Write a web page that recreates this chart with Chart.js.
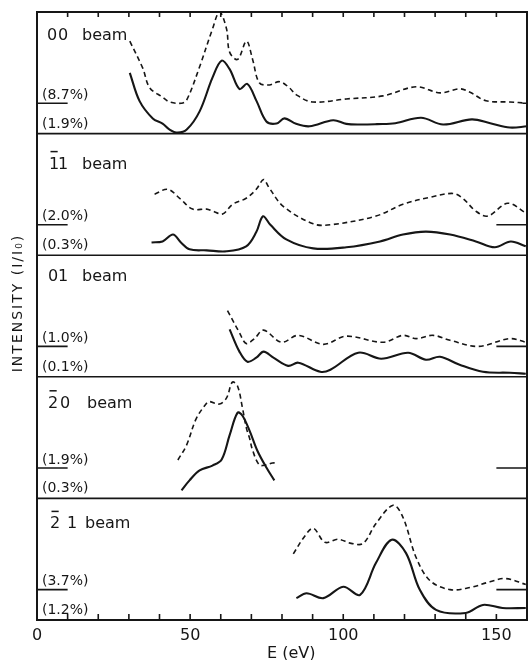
<!DOCTYPE html>
<html>
<head>
<meta charset="utf-8">
<script src="https://cdn.jsdelivr.net/npm/chart.js@4.4.1/dist/chart.umd.min.js"></script>
<style>
  html, body { margin: 0; padding: 0; background: #fff; }
  #wrap { width: 528px; height: 660px; }
</style>
</head>
<body>
<div id="wrap"><canvas id="c" width="528" height="660"></canvas></div>
<script>
// Beam indices (h, k); a negative index is printed as its magnitude with an overbar
const beamH = [0, -1, 0, -2, -2];
const beamK = [0, 1, 1, 0, 1];
// Full-scale intensity of each curve, as printed at the left of every panel
const scaleDashed = ['(8.7%)', '(2.0%)', '(1.0%)', '(1.9%)', '(3.7%)'];
const scaleSolid  = ['(1.9%)', '(0.3%)', '(0.1%)', '(0.3%)', '(1.2%)'];
const xTickLabels = [0, 50, 100, 150];

// Energies (eV) and relative intensities. Dashed curves are measured from their own zero line.
// 00 beam
const e00Solid  = [30.3, 33.5, 37.8, 41, 43.3, 45.9, 48.9, 53.1, 57.3, 60.3, 62.9, 66.1, 68.7, 71.7, 74.9, 78.2, 80.8, 84.6, 89, 96.7, 101, 105.5, 111, 117, 125.4, 132.6, 142, 148, 154.4, 160];
const i00Solid  = [50, 26.7, 12.5, 8.3, 3.3, 0.8, 3.3, 18.3, 46, 60, 53, 36.7, 40.8, 26.7, 10, 8.3, 12.5, 8, 6, 11, 8, 7.5, 7.8, 8.5, 13, 7.5, 11.7, 8.5, 5, 6];
const e00Dashed = [30.3, 34.5, 36.8, 41, 43.3, 47.2, 48.9, 53.1, 57.3, 59.6, 61.9, 62.9, 65.5, 68.4, 70.4, 72.6, 75.9, 79.2, 82.4, 84.6, 90, 101, 113, 123.8, 131.6, 138, 141.4, 146.6, 154.4, 160];
const i00Dashed = [51, 29, 12.7, 5, 1, 0, 2.7, 30, 61, 75, 61, 42, 36, 51, 36, 16.8, 15, 17.7, 12.7, 7, 1, 3.5, 6, 13.5, 8.5, 11.8, 9, 2, 1, 0];
// -1 1 beam
const e11Solid  = [37.4, 41, 44.4, 47, 49.8, 55.4, 61.9, 68.3, 71.6, 73.8, 76.2, 81.4, 90.2, 101, 112, 119.5, 127, 134.9, 143.3, 149.5, 154.7, 159.6];
const i11Solid  = [10.5, 11.3, 17, 10.5, 4.8, 4, 3.2, 7.3, 19, 32, 25, 13, 5.6, 6.5, 11.3, 17, 19.4, 17, 11.3, 6.5, 11.3, 7.3];
const e11Dashed = [38.4, 42.7, 46.6, 50.8, 55.4, 57.4, 60.6, 63.9, 68.3, 71.6, 74, 75.6, 80.4, 90.2, 95.8, 110.7, 119.5, 128.3, 135.8, 139, 143.3, 147.2, 153.7, 159.6];
const i11Dashed = [25.2, 29.2, 21.8, 12.9, 12.9, 11.2, 8.9, 16.9, 21.8, 29.2, 37.2, 31.2, 15.2, 0.8, 0, 7.2, 16.9, 22.6, 25.8, 21.8, 11.2, 7.2, 17.7, 9.7];
// 01 beam
const e01Solid  = [62.9, 66.1, 68.7, 71.6, 74, 77.2, 82, 85.3, 92.5, 95.8, 104.9, 112.4, 121.2, 127, 131.6, 138, 145.6, 154.4, 159.6];
const i01Solid  = [39, 20.7, 12.4, 15.7, 20.7, 15.7, 9, 11.6, 4.1, 5.8, 19.8, 14.9, 19.8, 14, 16.5, 9.9, 4.1, 3.3, 2.5];
const e01Dashed = [62.2, 66.1, 68.3, 71, 74, 79.8, 85.3, 93.5, 101, 113, 119.5, 123.8, 129.3, 134.9, 144, 154.4, 159.6];
const i01Dashed = [29.4, 11.4, 2.4, 6.4, 13.4, 3.4, 9.1, 1.7, 8.4, 3.4, 9.1, 6.4, 9.1, 5, 0, 6.4, 3.4];
// -2 0 beam
const e20Solid  = [47.2, 49.8, 53.1, 57.3, 60.3, 62.9, 65.5, 67.1, 69.4, 72, 74.9, 77.5];
const i20Solid  = [6.6, 14.8, 23, 27, 32, 52, 70.5, 68, 55.7, 39, 25.4, 14.8];
const e20Dashed = [46, 48.8, 52, 55.4, 56.4, 59.6, 61.9, 63.8, 65.5, 67.1, 68.4, 69.4, 70.4, 72.6, 74.9, 76.9, 78.5];
const i20Dashed = [6.6, 18.6, 40.6, 53.3, 54.6, 52.6, 57.6, 70.6, 67.2, 49.2, 32.6, 24.6, 14.6, 2.6, 2.6, 4.1, 4.1];
// -2 1 beam
const e21Solid  = [84.7, 88, 93.5, 100, 105.5, 110.7, 115.8, 120.5, 125, 130.3, 140, 145.6, 152, 159.6];
const i21Solid  = [18, 22, 18, 27.3, 20.7, 47, 66, 55, 24.8, 8.3, 5.8, 12.4, 9.9, 9.9];
const e21Dashed = [83.7, 87, 90.2, 94, 98.3, 102.6, 106.5, 110.7, 116.3, 119.5, 123.8, 128.3, 134.9, 141.4, 147.9, 153, 159.6];
const i21Dashed = [29.4, 42.4, 50.4, 38.9, 41.4, 38, 38, 54.4, 69.4, 59.4, 26.4, 7.4, 0, 1.7, 6.4, 9.1, 4.2];

const solidE  = [e00Solid, e11Solid, e01Solid, e20Solid, e21Solid];
const solidI  = [i00Solid, i11Solid, i01Solid, i20Solid, i21Solid];
const dashedE = [e00Dashed, e11Dashed, e01Dashed, e20Dashed, e21Dashed];
const dashedI = [i00Dashed, i11Dashed, i01Dashed, i20Dashed, i21Dashed];

// ---- drawing setup ----
const INK = '#161616';
const FONT = '"DejaVu Sans", sans-serif';
const DASH_ZERO = 25;             // height of the dashed curves' zero line inside a panel
const panelIds = ['p0', 'p1', 'p2', 'p3', 'p4'];
const rightZeroStart = [158.5, 150, 150, 150, 150];
const titleDy = [28, 35, 26, 31, 30];
const hX = [47, 49, 48, 48, 50];
const kX = [58, 58, 58, 60, 67];
const beamX = [82, 82, 82, 87, 85];

const datasets = [];
panelIds.forEach((id, p) => {
  datasets.push({
    data: solidE[p].map((e, j) => ({ x: e, y: solidI[p][j] })),
    yAxisID: id, borderColor: INK, borderWidth: 2.1, pointRadius: 0, tension: 0.35, fill: false
  });
  datasets.push({
    data: dashedE[p].map((e, j) => ({ x: e, y: dashedI[p][j] + DASH_ZERO })),
    yAxisID: id, borderColor: INK, borderWidth: 1.6, borderDash: [5, 3.5], pointRadius: 0, tension: 0.35, fill: false
  });
});

const scales = {
  x: {
    type: 'linear', min: 0, max: 160, position: 'bottom',
    afterFit: s => { s.height = 40; s.paddingLeft = 0; s.paddingRight = 0; },
    grid: { display: false, drawTicks: false },
    border: { display: false },
    ticks: {
      stepSize: 10, autoSkip: false, maxRotation: 0, padding: 6, color: INK,
      font: { family: FONT, size: 16 },
      callback: v => xTickLabels.includes(v) ? String(v) : ''
    }
  }
};
panelIds.forEach((id, p) => {
  scales[id] = {
    type: 'linear', min: 0, max: 100, position: 'left',
    stack: 'beams', stackWeight: 1, weight: 10 - p,
    afterFit: s => { s.width = 0; },
    ticks: { display: false },
    grid: { display: false, drawTicks: false },
    border: { display: false }
  };
});

// frames, tick marks, zero lines and all panel lettering
const panelDecor = {
  id: 'panelDecor',
  afterDatasetsDraw(chart) {
    const ctx = chart.ctx, ca = chart.chartArea, xs = chart.scales.x;
    ctx.save();
    ctx.strokeStyle = INK; ctx.fillStyle = INK;
    ctx.lineCap = 'butt';

    panelIds.forEach((id, p) => {
      const ys = chart.scales[id];
      // separator below each panel
      if (p < panelIds.length - 1) {
        ctx.lineWidth = 1.6;
        ctx.beginPath(); ctx.moveTo(ca.left, ys.bottom); ctx.lineTo(ca.right, ys.bottom); ctx.stroke();
      }
      // zero line of the dashed curve, at both ends
      const zy = ys.getPixelForValue(DASH_ZERO);
      ctx.lineWidth = 1.6;
      ctx.beginPath();
      ctx.moveTo(xs.getPixelForValue(0), zy); ctx.lineTo(xs.getPixelForValue(10), zy);
      ctx.moveTo(xs.getPixelForValue(rightZeroStart[p]), zy); ctx.lineTo(xs.getPixelForValue(160), zy);
      ctx.stroke();

      // scale factors
      ctx.font = '14px ' + FONT;
      ctx.textAlign = 'left'; ctx.textBaseline = 'alphabetic';
      ctx.fillText(scaleDashed[p], ca.left + 5, zy - 4.5);
      ctx.fillText(scaleSolid[p], ca.left + 5, ys.bottom - 6);

      // beam name
      const by = ys.top + titleDy[p];
      ctx.font = '16px ' + FONT;
      const hs = String(Math.abs(beamH[p]));
      ctx.fillText(hs, hX[p], by);
      if (beamH[p] < 0) {
        const w = ctx.measureText(hs).width;
        ctx.lineWidth = 1.5;
        ctx.beginPath(); ctx.moveTo(hX[p] + 1.5, by - 17); ctx.lineTo(hX[p] + w - 1.5, by - 17); ctx.stroke();
      }
      ctx.fillText(String(beamK[p]), kX[p], by);
      ctx.fillText('beam', beamX[p], by);
    });

    // outer frame
    ctx.lineWidth = 2;
    ctx.strokeRect(ca.left, ca.top, ca.right - ca.left, ca.bottom - ca.top);

    // inward tick marks on the top and bottom edges
    ctx.lineWidth = 1.6;
    ctx.beginPath();
    xs.ticks.forEach(t => {
      if (t.value <= 0 || t.value >= 160) return;
      const px = xs.getPixelForValue(t.value);
      ctx.moveTo(px, ca.top); ctx.lineTo(px, ca.top + 5);
      ctx.moveTo(px, ca.bottom); ctx.lineTo(px, ca.bottom - 6);
    });
    ctx.stroke();

    // axis titles
    ctx.font = '16px ' + FONT;
    ctx.textAlign = 'left'; ctx.textBaseline = 'alphabetic';
    ctx.fillText('E (eV)', 267, 658);

    ctx.save();
    ctx.translate(22, 303);
    ctx.rotate(-Math.PI / 2);
    ctx.font = '14px ' + FONT;
    ctx.textAlign = 'center';
    ctx.letterSpacing = '2px';
    ctx.fillText('INTENSITY (I/I\u2080)', 0, 0);
    ctx.restore();

    ctx.restore();
  }
};

new Chart(document.getElementById('c'), {
  type: 'line',
  data: { datasets },
  options: {
    responsive: false,
    animation: false,
    devicePixelRatio: 1,
    layout: { padding: { left: 37, right: 1, top: 12, bottom: 0 } },
    plugins: { legend: { display: false }, tooltip: { enabled: false } },
    scales
  },
  plugins: [panelDecor]
});
</script>
</body>
</html>
